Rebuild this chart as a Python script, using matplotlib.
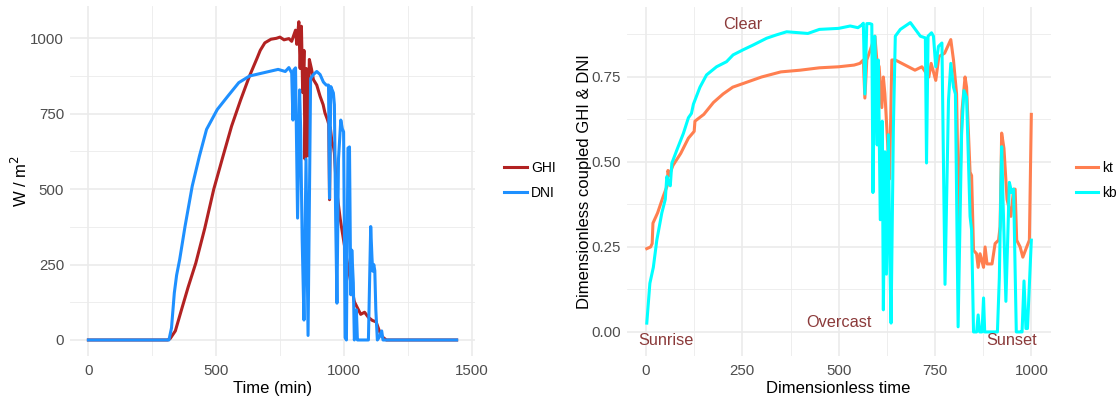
import numpy as np
import matplotlib
matplotlib.use("Agg")
import matplotlib.pyplot as plt
from matplotlib.ticker import MultipleLocator, FormatStrFormatter

plt.rcParams['font.family'] = ['Liberation Sans', 'DejaVu Sans']

# ---- left panel: irradiance vs time (min) ----
ghi_t = [0, 310, 320, 340, 364, 390, 420, 455, 490, 525, 560, 595, 630, 660, 672, 690,
         714, 735, 749, 765, 784, 795, 803, 810, 815, 823, 828, 833, 838, 843, 847, 852,
         858, 864, 872, 880, 893, 906, 918, 925, 935, 940, 943, 946, 952, 958, 962, 970,
         985, 1000, 1020, 1040, 1050, 1065, 1080, 1095, 1110, 1125, 1140, 1150, 1165, 1440]
ghi_v = [0, 0, 5, 30, 100, 175, 255, 370, 499, 605, 709, 795, 875, 935, 960, 985,
         997, 1000, 1004, 995, 999, 990, 1010, 1027, 980, 1055, 900, 1040, 820, 960, 600, 900,
         610, 930, 900, 863, 845, 808, 780, 753, 730, 715, 465, 705, 660, 643, 620, 500,
         400, 320, 220, 127, 110, 85, 92, 75, 65, 60, 25, 10, 0, 0]

dni_t = [0, 315, 325, 336, 345, 357, 378, 406, 434, 462, 504, 546, 588, 630, 686, 742, 770,
         784, 795, 800, 803, 810, 818, 826, 830, 836, 843, 851, 859, 869, 880, 893, 906,
         919, 930, 939, 943, 948, 958, 962, 967, 972, 978, 987, 993, 998, 1004, 1009, 1015,
         1021, 1026, 1030, 1036, 1040, 1044, 1048, 1052, 1056, 1095, 1104, 1109, 1112, 1116,
         1120, 1124, 1130, 1138, 1147, 1152, 1440]
dni_v = [0, 0, 40, 156, 215, 267, 377, 510, 609, 698, 764, 809, 853, 875, 886, 897, 890,
         903, 885, 729, 895, 902, 404, 829, 700, 332, 66, 600, 15, 867, 880, 890, 880,
         855, 845, 845, 470, 840, 819, 780, 400, 122, 600, 729, 700, 690, 8, 0, 636,
         640, 150, 298, 190, 0, 30, 100, 0, 0, 0, 376, 272, 228, 250,
         230, 100, 0, 10, 30, 0, 0]

# ---- right panel: dimensionless kt / kb ----
kt_t = [2, 12, 16, 18, 30, 45, 55, 57, 60, 70, 90, 110, 125, 127, 150, 175,
        200, 225, 250, 300, 350, 400, 450, 500, 540, 555, 564, 568, 573, 581, 594, 599,
        605, 612, 616, 620, 625, 632, 638, 647, 664, 681, 698, 716, 734, 740, 752, 760,
        775, 791, 798, 806, 812, 820, 828, 832, 841, 845, 850, 858, 862, 867, 876, 880,
        885, 898, 906, 915, 919, 923, 929, 937, 947, 954, 958, 962, 971, 978, 988, 995, 1000]
kt_v = [0.245, 0.25, 0.26, 0.32, 0.35, 0.40, 0.43, 0.475, 0.46, 0.49, 0.525, 0.57, 0.59, 0.62, 0.64, 0.675,
        0.70, 0.72, 0.73, 0.75, 0.765, 0.77, 0.777, 0.78, 0.785, 0.79, 0.80, 0.688, 0.80, 0.826, 0.87, 0.80,
        0.78, 0.66, 0.75, 0.70, 0.60, 0.45, 0.80, 0.80, 0.79, 0.78, 0.77, 0.78, 0.75, 0.79, 0.74, 0.81,
        0.82, 0.86, 0.80, 0.70, 0.30, 0.65, 0.75, 0.72, 0.47, 0.46, 0.24, 0.23, 0.19, 0.23, 0.19, 0.25,
        0.20, 0.20, 0.26, 0.27, 0.31, 0.585, 0.54, 0.39, 0.34, 0.42, 0.42, 0.27, 0.25, 0.22, 0.25, 0.27, 0.64]

kb_t = [2, 10, 19, 28, 41, 50, 54, 58, 63, 67, 80, 97, 110, 118, 123, 140,
        157, 183, 209, 226, 252, 278, 313, 339, 365, 399, 420, 450, 500, 530, 550, 560,
        564, 568, 573, 581, 586, 589, 594, 600, 603, 608, 613, 616, 620, 624, 629, 633,
        636, 642, 647, 660, 673, 686, 699, 712, 725, 728, 732, 741, 746, 752, 759, 768,
        776, 785, 791, 798, 803, 810, 819, 825, 832, 841, 845, 850, 858, 862, 866, 872,
        876, 879, 907, 912, 917, 923, 927, 934, 943, 949, 954, 961, 971, 976, 981, 986,
        990, 1000]
kb_v = [0.026, 0.143, 0.19, 0.27, 0.35, 0.39, 0.457, 0.44, 0.43, 0.496, 0.535, 0.584, 0.63, 0.643, 0.67, 0.72,
        0.756, 0.78, 0.795, 0.815, 0.83, 0.844, 0.864, 0.874, 0.883, 0.88, 0.878, 0.89, 0.893, 0.9, 0.895, 0.903,
        0.908, 0.70, 0.907, 0.907, 0.905, 0.41, 0.87, 0.55, 0.80, 0.33, 0.62, 0.065, 0.53, 0.17, 0.58, 0.20,
        0.026, 0.60, 0.87, 0.89, 0.90, 0.91, 0.89, 0.87, 0.865, 0.497, 0.87, 0.88, 0.87, 0.78, 0.84, 0.85,
        0.14, 0.68, 0.79, 0.72, 0.70, 0.015, 0.58, 0.71, 0.69, 0.34, 0.30, 0.0, 0.0, 0.05, 0.0, 0.0,
        0.10, 0.0, 0.0, 0.0, 0.16, 0.545, 0.37, 0.09, 0.44, 0.41, 0.42, 0.0, 0.0, 0.0, 0.15, 0.01,
        0.01, 0.27]

labels_left = ["GHI", "DNI"]
labels_right = ["kt", "kb"]
notes = ["Clear", "Overcast", "Sunrise", "Sunset"]
notes_x = [250, 500, 52, 950]
notes_y = [0.905, 0.027, -0.026, -0.026]

grid_c = '#EBEBEB'
tick_c = '#4D4D4D'
note_c = '#8B3A3A'


def style(ax):
    for s in ax.spines.values():
        s.set_visible(False)
    ax.grid(True, which='major', color=grid_c, lw=1.2)
    ax.grid(True, which='minor', color=grid_c, lw=0.6)
    ax.set_axisbelow(True)
    ax.tick_params(which='both', length=0, labelsize=10.8, labelcolor=tick_c)
    ax.tick_params(axis='x', pad=5.5)
    ax.tick_params(axis='y', pad=4.2)


fig = plt.figure(figsize=(11.18, 4.01), dpi=100)

ax1 = fig.add_axes([0.0626, 0.1125, 0.3623, 0.873])
ax1.plot(ghi_t, ghi_v, color='#B22222', lw=2.2, label=labels_left[0])
ax1.plot(dni_t, dni_v, color='#1E90FF', lw=2.2, label=labels_left[1])
ax1.set_xlim(-72, 1512)
ax1.set_ylim(-52.75, 1107.75)
ax1.xaxis.set_major_locator(MultipleLocator(500))
ax1.xaxis.set_minor_locator(MultipleLocator(250))
ax1.yaxis.set_major_locator(MultipleLocator(250))
ax1.yaxis.set_minor_locator(MultipleLocator(125))
style(ax1)
ax1.set_xlabel("Time (min)", fontsize=12)
ax1.set_ylabel("W / m$^2$", fontsize=12)
ax1.xaxis.set_label_coords(0.5, -0.071)
ax1.yaxis.set_label_coords(-0.099, 0.5)
ax1.legend(loc='center left', bbox_to_anchor=(0.44, 0.55), bbox_transform=fig.transFigure,
           frameon=False, fontsize=10, handlelength=1.6, handletextpad=0.3, labelspacing=0.75)

ax2 = fig.add_axes([0.5606, 0.1112, 0.3791, 0.8723])
ax2.plot(kt_t, kt_v, color='#FF7F50', lw=2.2, label=labels_right[0])
ax2.plot(kb_t, kb_v, color='#00FFFF', lw=2.2, label=labels_right[1])
for txt, x, y in zip(notes, notes_x, notes_y):
    ax2.text(x, y, txt, color=note_c, fontsize=11.7, ha='center', va='center')
ax2.set_xlim(-50, 1050)
ax2.set_ylim(-0.072, 0.957)
ax2.xaxis.set_major_locator(MultipleLocator(250))
ax2.xaxis.set_minor_locator(MultipleLocator(125))
ax2.yaxis.set_major_locator(MultipleLocator(0.25))
ax2.yaxis.set_minor_locator(MultipleLocator(0.125))
ax2.yaxis.set_major_formatter(FormatStrFormatter('%.2f'))
style(ax2)
ax2.set_xlabel("Dimensionless time", fontsize=12)
ax2.set_ylabel("Dimensionless coupled GHI & DNI", fontsize=12)
ax2.xaxis.set_label_coords(0.5, -0.071)
ax2.yaxis.set_label_coords(-0.082, 0.5)
ax2.legend(loc='center left', bbox_to_anchor=(0.951, 0.55), bbox_transform=fig.transFigure,
           frameon=False, fontsize=10, handlelength=1.6, handletextpad=0.3, labelspacing=0.75)

fig.savefig("out.png", dpi=100)
